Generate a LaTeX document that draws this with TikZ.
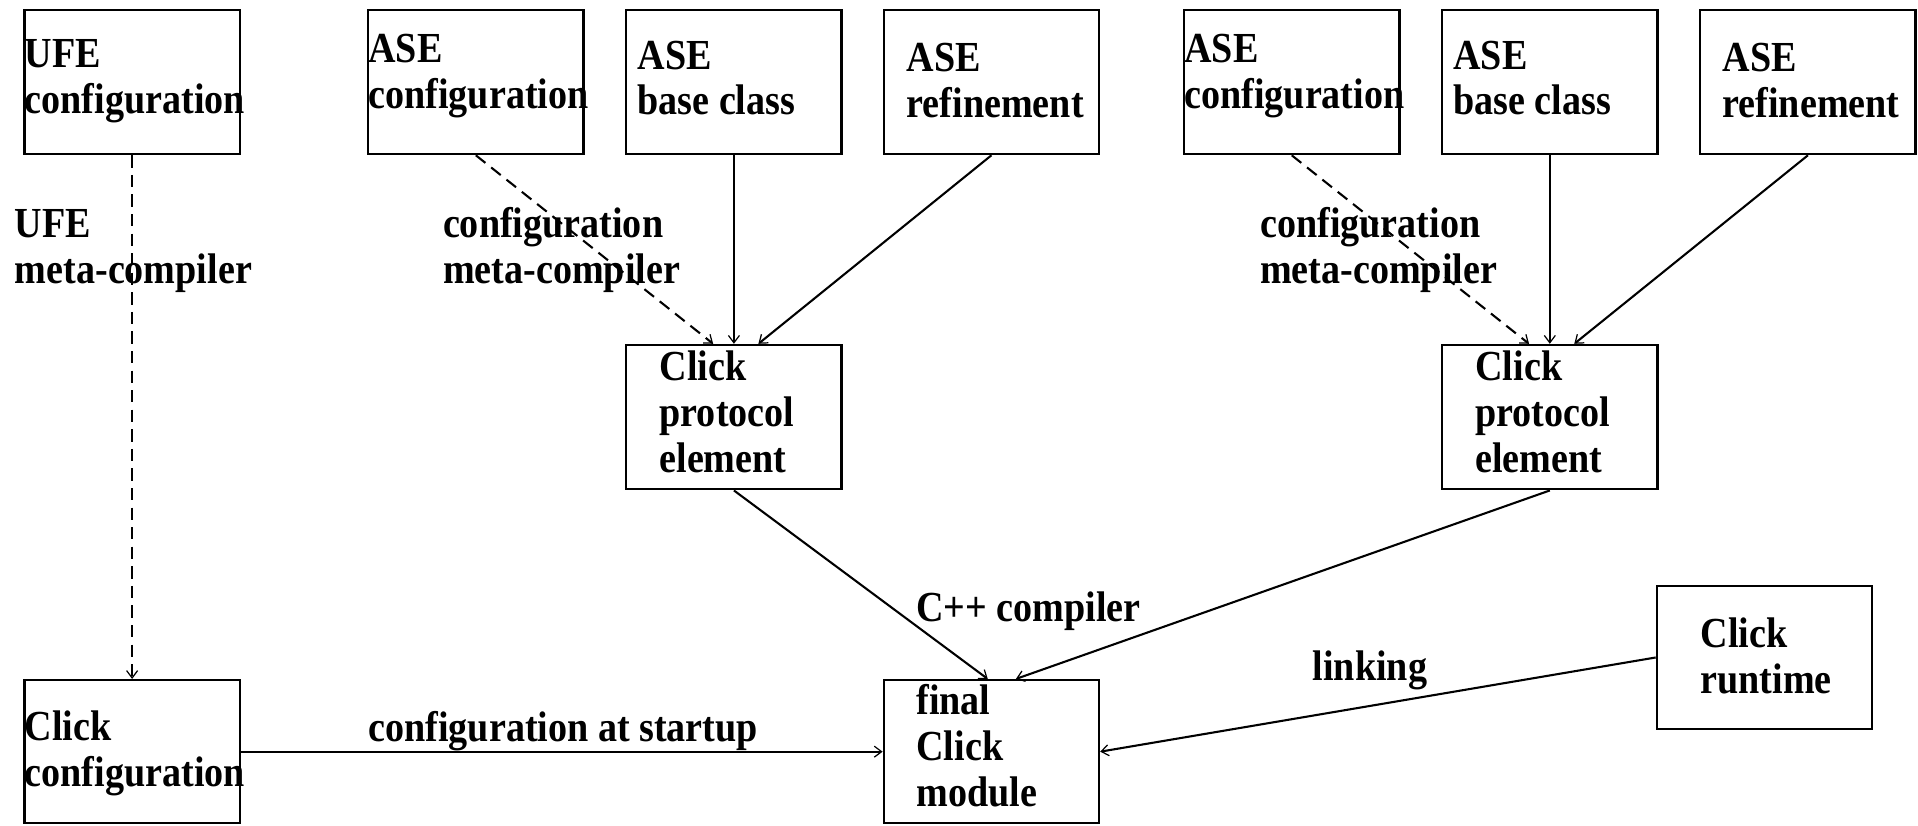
\documentclass[tikz,border=0pt]{standalone}
\usepackage{fontspec}
\newfontfamily\figfont{Liberation Serif}[FakeStretch=0.89,UprightFont=* Bold]
\usetikzlibrary{arrows.meta}
\begin{document}
\begin{tikzpicture}[x=1pt,y=-1pt,
  box/.style={draw,line width=1.9pt,minimum width=176pt,minimum height=118pt,inner sep=0pt},
  txt/.style={anchor=base west,align=left,inner sep=0pt,font=\figfont\fontsize{35}{37.5}\selectfont},
  conn/.style={line width=1.7pt,-{Straight Barb[length=6pt,width=9pt,line width=1pt]}},
  dconn/.style={conn,dash pattern=on 10pt off 6pt}]
\useasboundingbox (0,0) rectangle (1568,675);
% boxes
\node[box] (ufe) at (108,67) {};
\node[box] (asecL) at (389,67) {};
\node[box] (asebL) at (600,67) {};
\node[box] (aserL) at (810.5,67) {};
\node[box] (asecR) at (1056,67) {};
\node[box] (asebR) at (1267,67) {};
\node[box] (aserR) at (1478,67) {};
\node[box] (cpeL) at (600,341) {};
\node[box] (cpeR) at (1267,341) {};
\node[box,minimum height=117pt] (clickcfg) at (108,614.5) {};
\node[box,minimum height=117pt] (final) at (810.5,614.5) {};
\node[box,minimum height=117pt] (runtime) at (1442.5,537.5) {};
% box texts (anchor = baseline of last line)
\node[txt] (tufe) at (20,93) {UFE\\configuration};
\node[txt] (tasecL) at (301,89) {ASE\\configuration};
\node[txt] (tasebL) at (521,94) {ASE\\base class};
\node[txt] (taserL) at (741,96) {ASE\\refinement};
\node[txt] (tasecR) at (968,89) {ASE\\configuration};
\node[txt] (tasebR) at (1188,94) {ASE\\base class};
\node[txt] (taserR) at (1408,96) {ASE\\refinement};
\node[txt] (tcpeL) at (539,386) {Click\\protocol\\element};
\node[txt] (tcpeR) at (1206,386) {Click\\protocol\\element};
\node[txt] (tfinal) at (749,659) {final\\Click\\module};
\node[txt] (truntime) at (1390,567) {Click\\runtime};
\node[txt] (tclickcfg) at (20,643) {Click\\configuration};
% labels
\node[txt] (lufe) at (12,232) {UFE\\meta-compiler};
\node[txt] (lmetaL) at (362,232) {configuration\\meta-compiler};
\node[txt] (lmetaR) at (1030,232) {configuration\\meta-compiler};
\node[txt] (lcpp) at (749,508) {C++ compiler};
\node[txt] (llink) at (1073,556) {linking};
\node[txt] (lstart) at (301,606) {configuration at startup};
% connectors
\draw[dconn] (ufe.south) -- (clickcfg.north);
\draw[dconn] (asecL.south) -- ([xshift=-17pt]cpeL.north);
\draw[conn] (asebL.south) -- (cpeL.north);
\draw[conn] (aserL.south) -- ([xshift=20pt]cpeL.north);
\draw[dconn] (asecR.south) -- ([xshift=-17pt]cpeR.north);
\draw[conn] (asebR.south) -- (cpeR.north);
\draw[conn] (aserR.south) -- ([xshift=20pt]cpeR.north);
\draw[conn] (cpeL.south) -- ([xshift=-3pt]final.north);
\draw[conn] (cpeR.south) -- ([xshift=20pt]final.north);
\draw[conn] (clickcfg.east) -- (final.west);
\draw[conn] (runtime.west) -- (final.east);
\end{tikzpicture}
\end{document}
